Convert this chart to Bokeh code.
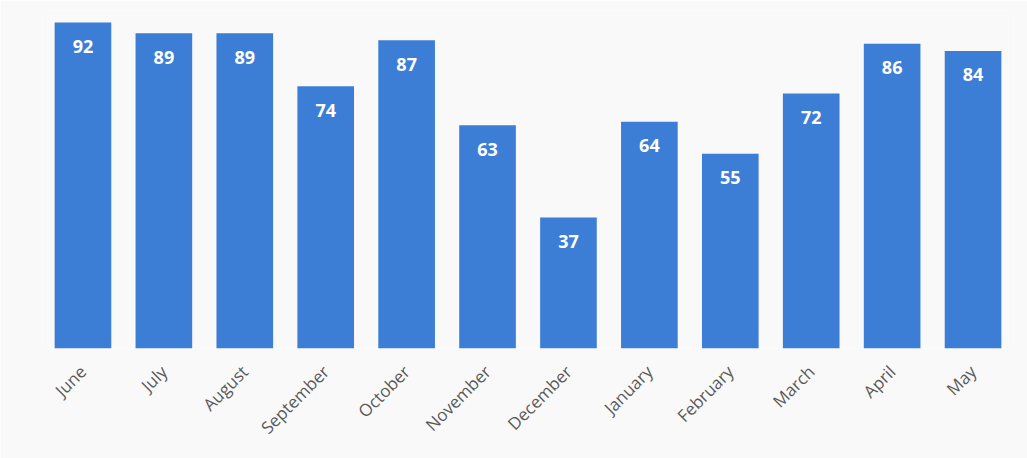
from bokeh.plotting import figure
from bokeh.models import ColumnDataSource, FactorRange, Range1d
from bokeh.core.properties import value
from bokeh.embed import file_html
from bokeh.resources import INLINE
import math

months = ["June", "July", "August", "September", "October", "November",
          "December", "January", "February", "March", "April", "May"]
values = [92, 89, 89, 74, 87, 63, 37, 64, 55, 72, 86, 84]
labels = [str(v) for v in values]

src = ColumnDataSource(dict(m=months, v=values, lab=labels))

p = figure(x_range=FactorRange(*months, range_padding=0), y_range=Range1d(0, 95.4),
           width=1027, height=458, output_backend="svg", toolbar_location=None,
           min_border_left=42, min_border_right=14, min_border_top=10, min_border_bottom=110)
p.background_fill_color = "#f9f9f9"
p.border_fill_color = "#f9f9f9"
p.outline_line_color = None
p.grid.grid_line_color = None

p.vbar(x="m", top="v", width=0.70, bottom=0, source=src,
       fill_color="#3c7ed6", line_color=None)

p.text(x="m", y="v", text="lab", source=src, text_color="white",
       text_font=value("Open Sans"), text_font_style="bold", text_font_size="18px",
       text_align="center", text_baseline="middle", y_offset=24)

p.yaxis.visible = False
ax = p.xaxis[0]
ax.axis_line_color = None
ax.major_tick_line_color = None
ax.minor_tick_line_color = None
ax.major_label_orientation = math.pi / 4
ax.major_label_text_font = "Open Sans"
ax.major_label_text_font_size = "17px"
ax.major_label_text_color = "#5a5a5a"
ax.major_label_standoff = 14

open("out.html", "w").write(file_html(p, INLINE))
